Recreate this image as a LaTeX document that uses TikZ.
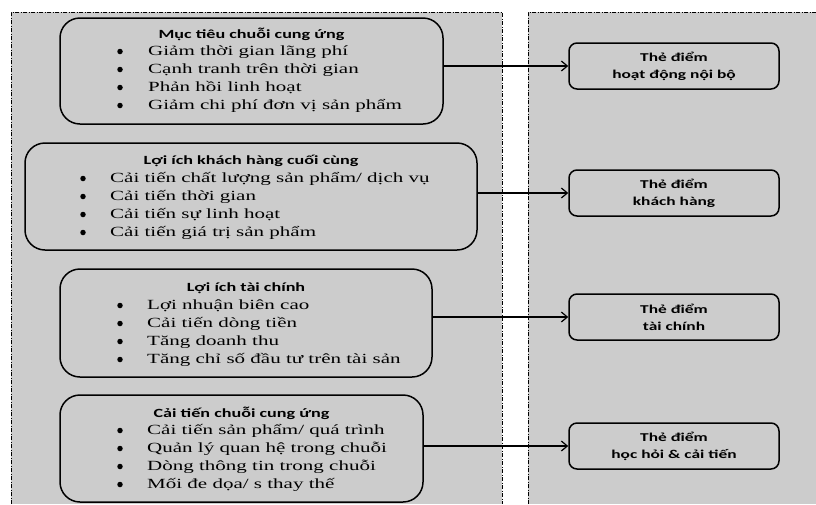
\documentclass[tikz,border=0pt]{standalone}
\usepackage{fontspec}
\setmainfont{Liberation Serif}
\newfontfamily\itemfont[FakeStretch=1.5]{Liberation Serif}
\newfontfamily\headfont[FakeStretch=1.45]{Carlito}
\usetikzlibrary{arrows.meta}
\definecolor{panelgray}{RGB}{204,204,204}
\tikzset{
  bigbox/.style={draw=black, line width=1.5pt, fill=panelgray, rounded corners=20pt, inner sep=0pt},
  cardbox/.style={draw=black, line width=1.5pt, fill=panelgray, rounded corners=8pt,
    minimum width=210pt, minimum height=46pt, inner sep=0pt, align=center,
    font=\headfont\bfseries\fontsize{12}{17}\selectfont},
  headtxt/.style={inner sep=0pt, font=\headfont\bfseries\fontsize{12.5}{15}\selectfont},
  itemtxt/.style={inner sep=0pt, anchor=west, font=\itemfont\fontsize{14}{16}\selectfont},
  dotmark/.style={circle, fill=black, inner sep=0pt, minimum size=5.5pt},
  arr/.style={-{Straight Barb[length=6pt,width=10pt]}, line width=1.2pt},
  border/.style={line width=1pt, dash pattern=on 4pt off 1.5pt on 1pt off 1.5pt}
}
\begin{document}
\begin{tikzpicture}[x=1pt,y=-1pt]
\useasboundingbox (0,0) rectangle (816,504);
\fill[white] (0,0) rectangle (816,504);
% panels
\fill[panelgray] (11,12) rectangle (502,504);
\fill[panelgray] (528,12) rectangle (816,504);
\draw[border] (11,504) -- (11,12) -- (502,12) -- (502,504);
\draw[border] (528,504) -- (528,12) -- (816,12);

% left boxes
\node[bigbox, minimum width=383pt, minimum height=106pt] (b1) at (251.5,71) {};
\node[bigbox, minimum width=452pt, minimum height=107pt] (b2) at (251,196.5) {};
\node[bigbox, minimum width=372pt, minimum height=108pt] (b3) at (246,323) {};
\node[bigbox, minimum width=363pt, minimum height=107pt] (b4) at (241.5,448.5) {};

% titles
\node[headtxt] (t1) at (251.5,34) {Mục tiêu chuỗi cung ứng};
\node[headtxt] (t2) at (251,161) {Lợi ích khách hàng cuối cùng};
\node[headtxt] (t3) at (246,288) {Lợi ích tài chính};
\node[headtxt] (t4) at (241.5,413) {Cải tiến chuỗi cung ứng};

% items
\foreach \txt [count=\k] in {Giảm thời gian lãng phí, Cạnh tranh trên thời gian, Phản hồi linh hoạt, Giảm chi phí đơn vị sản phẩm}{
  \node[dotmark] (da\k) at (120,33.5+18*\k) {};
  \node[itemtxt] (ia\k) at (148,34+18*\k) {\txt};
}
\foreach \txt [count=\k] in {Cải tiến chất lượng sản phẩm/ dịch vụ, Cải tiến thời gian, Cải tiến sự linh hoạt, Cải tiến giá trị sản phẩm}{
  \node[dotmark] (db\k) at (83,160.5+18*\k) {};
  \node[itemtxt] (ib\k) at (110,161+18*\k) {\txt};
}
\foreach \txt [count=\k] in {Lợi nhuận biên cao, Cải tiến dòng tiền, Tăng doanh thu, Tăng chỉ số đầu tư trên tài sản}{
  \node[dotmark] (dc\k) at (120,287.5+18*\k) {};
  \node[itemtxt] (ic\k) at (147,288+18*\k) {\txt};
}
\foreach \txt [count=\k] in {Cải tiến sản phẩm/ quá trình, Quản lý quan hệ trong chuỗi, Dòng thông tin trong chuỗi, Mối đe dọa/ s thay thế}{
  \node[dotmark] (dd\k) at (120,412.5+18*\k) {};
  \node[itemtxt] (id\k) at (147,413+18*\k) {\txt};
}

% right cards
\node[cardbox] (r1) at (674,66) {Thẻ điểm\\hoạt động nội bộ};
\node[cardbox] (r2) at (674,193) {Thẻ điểm\\khách hàng};
\node[cardbox] (r3) at (674,317) {Thẻ điểm\\tài chính};
\node[cardbox] (r4) at (674,446) {Thẻ điểm\\học hỏi \& cải tiến};

% arrows
\draw[arr] (b1.east |- r1.west) -- (r1.west);
\draw[arr] (b2.east |- r2.west) -- (r2.west);
\draw[arr] (b3.east |- r3.west) -- (r3.west);
\draw[arr] (b4.east |- r4.west) -- (r4.west);
\end{tikzpicture}
\end{document}
